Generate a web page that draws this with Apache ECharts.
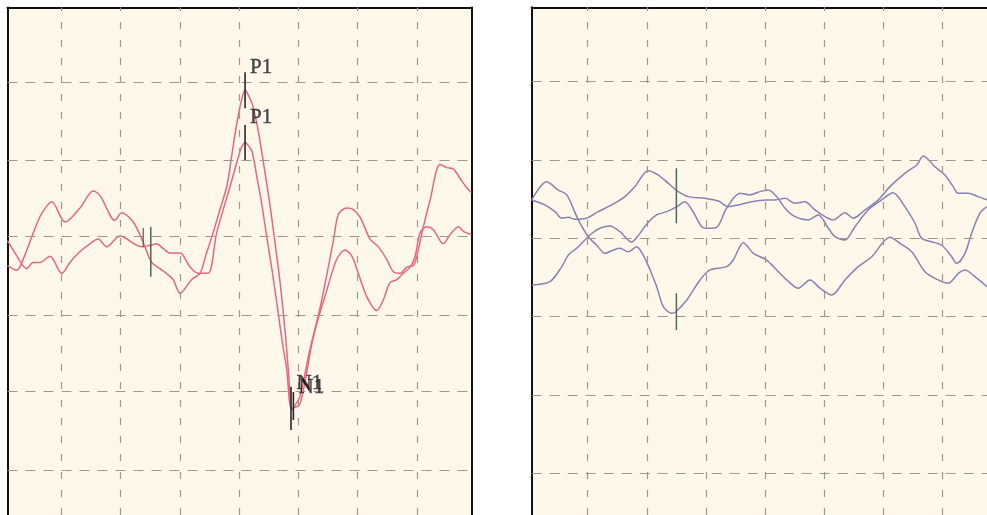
<!DOCTYPE html>
<html><head><meta charset="utf-8">
<script src="https://cdn.jsdelivr.net/npm/echarts@6/dist/echarts.min.js"></script>
<style>html,body{margin:0;padding:0;background:#fff}#c{width:987px;height:515px}</style>
</head><body><div id="c"></div>
<script>
// time in ms (25 ms / division), amplitude in µV (5 µV / division)
const leftTraceA = [[0,-1.9],[3.9,-2.2],[7.4,-1.2],[10.9,0.2],[14.3,1.4],[18.7,2.2],[24.3,0.9],[30.6,1.8],[36.2,2.9],[39.1,2.6],[45.4,1.0],[48.2,1.5],[53.1,0.9],[57.3,-0.4],[60.9,-1.7],[64.4,-2.1],[69.9,-2.8],[72.8,-3.7],[77.8,-2.8],[81.3,-2.4],[83.8,-1.2],[86.8,0.2],[89.7,1.7],[92.6,3.2],[94.4,4.9],[96.1,6.6],[97.5,7.8],[98.9,8.8],[100.3,9.4],[101.6,9.1],[103.3,8.5],[104.9,7.5],[106.6,6.1],[108.7,4.1],[110.9,1.9],[113.0,-0.5],[115.1,-3.0],[117.2,-6.1],[118.7,-8.9],[120.0,-11.2],[121.4,-10.9],[123.5,-10.3],[127.7,-7.3],[132.0,-4.6],[137.6,-0.3],[139.7,1.4],[143.2,1.8],[146.0,1.7],[148.9,1.2],[153.1,-0.2],[156.6,-0.7],[160.1,-1.5],[162.9,-2.3],[165.8,-2.4],[168.6,-2.0],[171.4,-1.9],[172.8,-1.3],[175.6,0.6],[178.4,2.3],[182.6,4.6],[185.5,4.4],[188.3,4.3],[191.1,3.7],[193.9,3.1],[195.9,2.8]];
const leftTraceB = [[0,-0.3],[3.6,-1.2],[8.1,-2.1],[10.8,-1.7],[13.7,-1.7],[17.9,-1.3],[22.9,-2.4],[26.4,-1.7],[30.6,-1.0],[34.8,-0.5],[38.3,-0.2],[41.9,-0.7],[47.5,0.0],[54.6,-0.6],[57.2,-0.7],[60.2,-0.6],[63.0,-0.5],[65.7,-0.8],[68.6,-1.1],[72.8,-1.1],[77.1,-2.0],[80.4,-2.4],[84.7,-2.4],[88.3,0.2],[94.0,3.2],[97.5,5.1],[98.8,5.7],[100.3,6.0],[101.8,5.8],[103.3,5.4],[105.4,3.7],[107.1,2.3],[109.5,-0.1],[111.7,-2.2],[113.7,-4.3],[115.9,-6.7],[117.9,-8.6],[120.0,-11.1],[123.5,-10.8],[129.1,-6.5],[134.8,-3.5],[139.0,-1.5],[142.5,-0.9],[145.4,-1.3],[148.1,-2.4],[151.7,-3.9],[155.9,-4.8],[158.7,-4.1],[161.5,-3.0],[164.4,-2.8],[167.1,-2.4],[170.0,-2.0],[172.1,-1.3],[174.2,0.2],[177.0,0.6],[179.8,0.4],[184.0,-0.5],[186.9,0.1],[190.4,0.6],[192.5,0.3],[195.9,0.1]];
const rightTraceA = [[0,2.45],[6.3,3.61],[11.2,3.08],[14.8,2.77],[19.7,1.17],[23.9,0.10],[27.4,-0.43],[31.0,-0.96],[34.5,-0.75],[37.3,-0.64],[40.8,-0.86],[44.3,-0.54],[47.1,-1.07],[50.0,-2.02],[52.8,-3.09],[55.6,-4.37],[59.1,-4.79],[60.9,-4.69],[65.5,-3.94],[71.1,-2.66],[75.3,-2.02],[82.3,-1.81],[85.1,-1.39],[89.4,-0.28],[93.6,-0.96],[99.2,-1.39],[103.5,-2.02],[107.7,-2.66],[112.6,-3.19],[117.5,-2.66],[121.8,-3.19],[126.7,-3.62],[132.3,-2.66],[137.9,-1.81],[143.6,-1.18],[151.3,0.06],[155.5,-0.32],[160.5,-0.86],[166.1,-2.13],[171.7,-2.66],[175.9,-2.87],[180.2,-2.24],[183.0,-2.02],[187.2,-2.45],[192.3,-3.09]];
const rightTraceB = [[0,2.45],[5.6,2.13],[9.8,1.70],[12.7,1.28],[15.5,1.34],[18.3,1.21],[23.2,1.28],[28.1,1.70],[33.8,2.13],[39.4,2.66],[43.6,3.30],[49.2,4.32],[53.5,4.04],[57.7,3.51],[61.9,2.98],[66.1,2.66],[73.2,2.55],[78.8,2.38],[83.0,2.02],[87.2,2.13],[92.9,2.34],[99.2,2.45],[102.7,2.45],[107.0,2.55],[111.2,2.24],[115.4,2.34],[119.6,1.81],[123.9,1.38],[127.4,1.17],[132.3,1.63],[135.8,1.28],[140.8,1.81],[146.4,2.45],[151.3,3.30],[157.6,4.15],[162.6,4.68],[165.4,5.26],[170.3,4.57],[174.5,4.04],[178.0,3.30],[180.2,2.87],[184.4,2.87],[188.6,2.66],[192.3,2.45]];
const rightTraceC = [[0,-2.98],[7.7,-2.77],[12.7,-1.81],[15.5,-1.07],[19.7,-0.54],[24.6,0.21],[28.8,0.64],[33.1,0.79],[37.3,0.42],[42.2,-0.24],[44.9,0.15],[48.6,0.91],[52.8,1.49],[57.0,1.70],[61.2,2.00],[64.7,2.34],[68.2,1.68],[71.8,0.74],[74.5,0.64],[78.1,0.70],[82.3,1.92],[88.0,2.87],[92.2,2.77],[96.4,2.98],[99.9,3.08],[103.6,2.64],[107.0,1.92],[111.2,1.38],[116.8,1.17],[121.0,1.49],[125.3,0.64],[128.1,0.10],[132.3,-0.11],[136.5,0.74],[142.1,1.81],[147.8,2.45],[152.6,2.91],[157.6,2.02],[161.9,0.96],[164.7,0.0],[168.9,-0.22],[173.1,-0.43],[177.4,-1.18],[179.5,-1.60],[183.0,-0.96],[185.8,0.32],[189.3,1.60],[192.3,2.02]];

// grid divisions
const leftGridX = [22.9,47.8,72.8,97.9,122.8,147.7,172.8];
const leftGridY = [9.9,4.9,0,-5.1,-10,-15.1];
const rightGridX = [23.5,48.6,73.6,98.8,123.6,148.5,173.6];
const rightGridY = [10,5,0,-5,-10,-15];

// cursor markers: [time, from µV, to µV]
const leftBaseMarkers = [[60.5,0.6,-2.62]];
const leftSmallMarkers = [[57.3,0.51,-0.71]];
const leftPeakMarkers = [[100.3,10.53,8.22],[100.3,7.14,4.89],[119.7,-9.7,-12.48],[120.7,-10.04,-11.84]];
const rightMarkers = [[61.1,4.47,0.96],[61.1,-3.51,-5.86]];
// peak labels: [time, µV, text]
const leftLabels = [[102.4,10.84,'P1'],[102.4,7.63,'P1'],[122.0,-9.52,'N1'],[122.9,-9.72,'N1']];

const chart = echarts.init(document.getElementById('c'), null, {renderer:'canvas'});
const PINK = '#e4687e', PURPLE = '#8a80b4', GRIDC = '#a3978c', MARK = '#2a262a', GREEN = '#4d6b55', BORDER = '#111';

function curve(data, i, color){
  return {type:'line', xAxisIndex:i, yAxisIndex:i, data, symbol:'none', smooth:0.3,
    lineStyle:{color, width:1.5}, z:3, silent:true, animation:false};
}
function gridLines(gx, gy, i){
  return {type:'line', xAxisIndex:i, yAxisIndex:i, data:[[-100,-100]], symbol:'none', z:1, silent:true, animation:false,
    lineStyle:{width:0},
    markLine:{silent:true, animation:false, symbol:['none','none'], label:{show:false},
      lineStyle:{color:GRIDC, width:1.2},
      emphasis:{disabled:true},
      data:[...gx.map(v=>({xAxis:v, lineStyle:{type:[7,11], color:GRIDC, width:1.2}})),
            ...gy.map(v=>({yAxis:v, lineStyle:{type:[10,8], color:GRIDC, width:1.2}}))]}};
}
function markers(list, i, color, w){
  return list.map(m=>({type:'line', xAxisIndex:i, yAxisIndex:i, data:[[m[0],m[1]],[m[0],m[2]]],
    symbol:'none', lineStyle:{color, width:w}, z:5, silent:true, animation:false}));
}
const edge = {show:true, onZero:false, lineStyle:{color:BORDER, width:2}};
const hidden = {axisTick:{show:false}, axisLabel:{show:false}, splitLine:{show:false}};

const option = {
  backgroundColor:'#ffffff',
  animation:false,
  grid:[
    {left:7.5, top:7.5, width:464, height:507.5, show:true, backgroundColor:'#fdf8ea', borderWidth:0},
    {left:531.7, top:7.3, right:0, bottom:0, show:true, backgroundColor:'#fdf8ea', borderWidth:0}
  ],
  xAxis:[
    {type:'value', gridIndex:0, min:0, max:195.9, position:'top', axisLine:edge, ...hidden},
    {type:'value', gridIndex:1, min:0, max:192.3, position:'top', axisLine:edge, ...hidden}
  ],
  yAxis:[
    {type:'value', gridIndex:0, min:-17.95, max:14.7, position:'left', axisLine:edge, ...hidden},
    {type:'value', gridIndex:1, min:-17.67, max:14.75, position:'left', axisLine:edge, ...hidden},
    {type:'value', gridIndex:0, min:-17.95, max:14.7, position:'right', axisLine:edge, ...hidden}
  ],
  series:[
    gridLines(leftGridX, leftGridY, 0),
    gridLines(rightGridX, rightGridY, 1),
    curve(leftTraceA, 0, PINK),
    curve(leftTraceB, 0, PINK),
    curve(rightTraceA, 1, PURPLE),
    curve(rightTraceB, 1, PURPLE),
    curve(rightTraceC, 1, PURPLE),
    ...markers(leftBaseMarkers, 0, GREEN, 1.5),
    ...markers(leftSmallMarkers, 0, '#6e4f55', 1.2),
    ...markers(leftPeakMarkers, 0, MARK, 1.6),
    ...markers(rightMarkers, 1, GREEN, 1.5),
    {type:'scatter', xAxisIndex:0, yAxisIndex:0, symbolSize:0, z:6, silent:true, animation:false,
      data:leftLabels.map(l=>({value:[l[0],l[1]], name:l[2]})),
      label:{show:true, position:'right', distance:0, formatter:p=>p.name,
        fontFamily:'Liberation Serif', fontSize:21, color:'#1e1a1f',
        textBorderColor:'#1e1a1f', textBorderWidth:0.4}}
  ]
};
chart.setOption(option);
</script></body></html>
